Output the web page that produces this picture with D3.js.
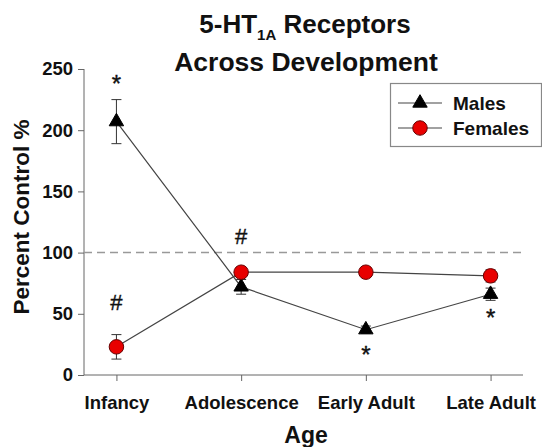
<!DOCTYPE html>
<html>
<head>
<meta charset="utf-8">
<script src="https://cdn.jsdelivr.net/npm/d3@7"></script>
<style>
  body { margin: 0; background: #fff; }
  svg { display: block; font-family: "Liberation Sans", Arial, sans-serif; }
</style>
</head>
<body>
<svg id="chart" width="542" height="447"></svg>
<script>
// data
const ages = ["Infancy", "Adolescence", "Early Adult", "Late Adult"];
const males = [207, 72, 37, 66];
const malesErr = [18, 6, 3, 5];
const females = [23, 84, 84, 81];
const femalesErr = [10, 3, 3, 5];
const yTicks = [0, 50, 100, 150, 200, 250];
const controlLevel = 100;
// significance marks: [age index, value position, symbol]
const marks = [
  [0, 238, "*"],
  [0, 59, "#"],
  [1, 113, "#"],
  [2, 17, "*"],
  [3, 47, "*"],
];

const svg = d3.select("#chart");
const x0 = 84, x1 = 523;

const x = d3.scalePoint().domain(ages).range([x0, x1]).padding(0.26);
const y = d3.scaleLinear().domain([0, 250]).range([375, 69]);

const axisColor = "#666";

// y axis
const yAxis = svg.append("g")
  .attr("transform", `translate(${x0},0)`)
  .call(d3.axisLeft(y).tickValues(yTicks).tickSize(6).tickPadding(5));
yAxis.select(".domain").attr("stroke", axisColor).attr("d", `M0,${y(250)}V${y(0)}`);
yAxis.selectAll(".tick line").attr("stroke", axisColor);
yAxis.selectAll("text").attr("font-size", 18.5).attr("font-weight", "bold").attr("fill", "#111");

// x axis
const xAxis = svg.append("g")
  .attr("transform", `translate(0,${y(0)})`)
  .call(d3.axisBottom(x).tickSize(6).tickPadding(15));
xAxis.select(".domain").attr("stroke", axisColor).attr("d", `M${x0},0H${x1}`);
xAxis.selectAll(".tick line").attr("stroke", axisColor);
xAxis.selectAll("text").attr("font-size", 18.5).attr("font-weight", "bold").attr("fill", "#111");

// control line
svg.append("line")
  .attr("x1", x0).attr("x2", x1)
  .attr("y1", y(controlLevel)).attr("y2", y(controlLevel))
  .attr("stroke", "#999").attr("stroke-width", 1.5)
  .attr("stroke-dasharray", "8,5");

const line = d3.line().x((d, i) => x(ages[i])).y(d => y(d));
const triSym = d3.symbol().type(d3.symbolTriangle).size(90);
const circSym = d3.symbol().type(d3.symbolCircle).size(165);

function drawSeries(vals, errs, kind) {
  const g = svg.append("g");
  g.append("path").datum(vals).attr("d", line)
    .attr("fill", "none").attr("stroke", "#444").attr("stroke-width", 1.2);
  vals.forEach((v, i) => {
    const cx = x(ages[i]);
    g.append("line").attr("x1", cx).attr("x2", cx)
      .attr("y1", y(v + errs[i])).attr("y2", y(v - errs[i]))
      .attr("stroke", "#333").attr("stroke-width", 1);
    [v + errs[i], v - errs[i]].forEach(e => {
      g.append("line").attr("x1", cx - 5).attr("x2", cx + 5)
        .attr("y1", y(e)).attr("y2", y(e))
        .attr("stroke", "#333").attr("stroke-width", 1);
    });
  });
  g.selectAll("path.marker").data(vals).enter().append("path")
    .attr("class", "marker")
    .attr("transform", (d, i) => `translate(${x(ages[i])},${y(d)})`)
    .attr("d", kind === "tri" ? triSym : circSym)
    .attr("fill", kind === "tri" ? "#000" : "#e80000")
    .attr("stroke", kind === "tri" ? "#000" : "#600")
    .attr("stroke-width", 1);
}

drawSeries(males, malesErr, "tri");
drawSeries(females, femalesErr, "circ");

// significance marks
svg.selectAll("text.mark").data(marks).enter().append("text")
  .attr("class", "mark")
  .attr("x", d => x(ages[d[0]]))
  .attr("y", d => y(d[1]))
  .attr("text-anchor", "middle")
  .attr("dominant-baseline", "central")
  .attr("font-size", d => d[2] === "*" ? 24 : 22)
  .attr("stroke", "#111").attr("stroke-width", 0.4)
  .attr("fill", "#111")
  .text(d => d[2]);

// legend
const leg = svg.append("g");
leg.append("rect").attr("x", 390.5).attr("y", 83.5).attr("width", 151).attr("height", 63)
  .attr("fill", "#fff").attr("stroke", "#888").attr("stroke-width", 1.2);
const legItems = [["Males", "tri"], ["Females", "circ"]];
legItems.forEach((it, i) => {
  const ly = 103 + i * 25;
  leg.append("line").attr("x1", 398).attr("x2", 442).attr("y1", ly).attr("y2", ly)
    .attr("stroke", "#444").attr("stroke-width", 1.2);
  leg.append("path").attr("transform", `translate(420,${ly})`)
    .attr("d", it[1] === "tri" ? triSym : circSym)
    .attr("fill", it[1] === "tri" ? "#000" : "#e80000")
    .attr("stroke", it[1] === "tri" ? "#000" : "#600");
  leg.append("text").attr("x", 453).attr("y", ly + 7)
    .attr("font-size", 19).attr("font-weight", "bold").attr("fill", "#111").text(it[0]);
});

// titles
const t1 = svg.append("text").attr("x", 305).attr("y", 33).attr("text-anchor", "middle")
  .attr("font-size", 26).attr("font-weight", "bold").attr("fill", "#111");
t1.append("tspan").text("5-HT");
t1.append("tspan").attr("font-size", 15).attr("dy", 7).text("1A");
t1.append("tspan").attr("dy", -7).text(" Receptors");
svg.append("text").attr("x", 306).attr("y", 71).attr("text-anchor", "middle")
  .attr("font-size", 26.5).attr("font-weight", "bold").attr("fill", "#111")
  .text("Across Development");

svg.append("text").attr("transform", `translate(29,217) rotate(-90)`)
  .attr("text-anchor", "middle").attr("font-size", 22.5).attr("font-weight", "bold")
  .attr("fill", "#111").text("Percent Control %");

svg.append("text").attr("x", 306).attr("y", 443).attr("text-anchor", "middle")
  .attr("font-size", 23).attr("font-weight", "bold").attr("fill", "#111").text("Age");
</script>
</body>
</html>
